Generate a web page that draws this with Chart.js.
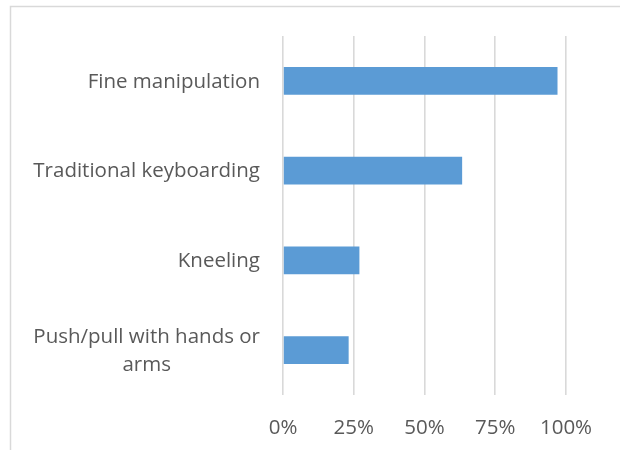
<!DOCTYPE html>
<html>
<head>
<meta charset="utf-8">
<script src="https://cdn.jsdelivr.net/npm/chart.js@4.4.0/dist/chart.umd.min.js"></script>
<style>
  html, body { margin: 0; padding: 0; background: #fff; }
  #wrap { width: 620px; height: 450px; position: relative; }
</style>
</head>
<body>
<div id="wrap"><canvas id="chart"></canvas></div>
<script>
// categories (multi-line labels are arrays) and share of respondents
const categories = [
  'Fine manipulation',
  'Traditional keyboarding',
  'Kneeling',
  ['Push/pull with hands or', 'arms']
];
const shares = [0.97, 0.633, 0.27, 0.232];
const tickValues = [0, 0.25, 0.5, 0.75, 1];

const FONT = '"Open Sans", sans-serif';
const TEXT = '#595959';
const GRID = '#d9d9d9';

// light frame along the top and left edge
const framePlugin = {
  id: 'frame',
  beforeDraw(chart) {
    const ctx = chart.ctx;
    ctx.save();
    ctx.strokeStyle = GRID;
    ctx.lineWidth = 1.5;
    ctx.beginPath();
    ctx.moveTo(10.5, chart.height);
    ctx.lineTo(10.5, 6.5);
    ctx.lineTo(chart.width, 6.5);
    ctx.stroke();
    ctx.restore();
  }
};

// category labels: right aligned, extra lines centred under the first one
const categoryLabels = {
  id: 'categoryLabels',
  afterDraw(chart) {
    const ctx = chart.ctx;
    const yScale = chart.scales.y;
    const right = chart.chartArea.left - 23;
    const lineH = 27.5;
    ctx.save();
    ctx.font = '20.5px ' + FONT;
    ctx.fillStyle = TEXT;
    ctx.textBaseline = 'middle';
    ctx.textAlign = 'center';
    categories.forEach((label, i) => {
      const lines = Array.isArray(label) ? label : [label];
      const yc = yScale.getPixelForTick(i) + 1;
      const widest = Math.max(...lines.map(l => ctx.measureText(l).width));
      const cx = right - widest / 2;
      lines.forEach((line, j) => {
        const y = yc + (j - (lines.length - 1) / 2) * lineH;
        ctx.fillText(line, cx, y);
      });
    });
    ctx.restore();
  }
};

new Chart(document.getElementById('chart'), {
  type: 'bar',
  data: {
    labels: categories,
    datasets: [{
      data: shares,
      backgroundColor: '#5b9bd5',
      barPercentage: 0.62,
      categoryPercentage: 0.5
    }]
  },
  options: {
    indexAxis: 'y',
    responsive: true,
    maintainAspectRatio: false,
    animation: false,
    layout: { padding: { top: 36, right: 54, left: 0, bottom: 0 } },
    plugins: {
      legend: { display: false },
      tooltip: { enabled: false }
    },
    scales: {
      x: {
        min: 0,
        max: 1,
        afterBuildTicks(scale) {
          scale.ticks = tickValues.map(v => ({ value: v }));
        },
        afterFit(scale) { scale.height = 55; },
        border: { display: false },
        grid: { color: GRID, lineWidth: 1.6, drawTicks: false },
        ticks: {
          padding: 21,
          color: TEXT,
          font: { family: FONT, size: 20.5 },
          callback: v => Math.round(v * 100) + '%'
        }
      },
      y: {
        afterFit(scale) { scale.width = 283; },
        border: { display: false },
        grid: { display: false },
        ticks: { display: false }
      }
    }
  },
  plugins: [framePlugin, categoryLabels]
});
</script>
</body>
</html>
